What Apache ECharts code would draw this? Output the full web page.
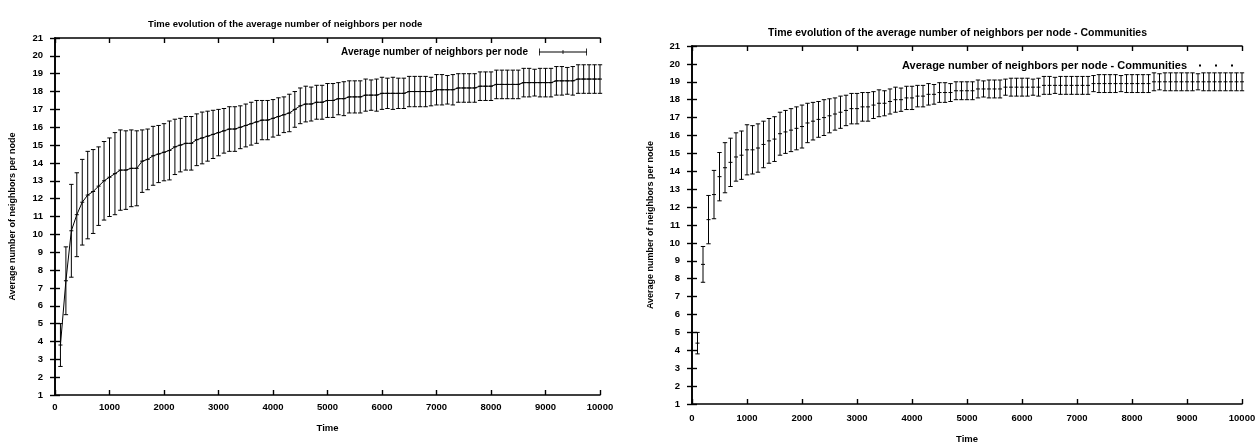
<!DOCTYPE html>
<html>
<head>
<meta charset="utf-8">
<script src="https://cdn.jsdelivr.net/npm/echarts@6/dist/echarts.min.js"></script>
<style>
html, body { margin: 0; padding: 0; background: #fff; }
#chart { width: 1257px; height: 442px; }
</style>
</head>
<body>
<div id="chart"></div>
<script>
// time steps (same for both runs)
var timeSteps = [
    100, 200, 300, 400, 500, 600, 700, 800, 900, 1000,
    1100, 1200, 1300, 1400, 1500, 1600, 1700, 1800, 1900, 2000,
    2100, 2200, 2300, 2400, 2500, 2600, 2700, 2800, 2900, 3000,
    3100, 3200, 3300, 3400, 3500, 3600, 3700, 3800, 3900, 4000,
    4100, 4200, 4300, 4400, 4500, 4600, 4700, 4800, 4900, 5000,
    5100, 5200, 5300, 5400, 5500, 5600, 5700, 5800, 5900, 6000,
    6100, 6200, 6300, 6400, 6500, 6600, 6700, 6800, 6900, 7000,
    7100, 7200, 7300, 7400, 7500, 7600, 7700, 7800, 7900, 8000,
    8100, 8200, 8300, 8400, 8500, 8600, 8700, 8800, 8900, 9000,
    9100, 9200, 9300, 9400, 9500, 9600, 9700, 9800, 9900, 10000
];

// average number of neighbors per node
var avgNeighbors = [
    3.8, 7.4, 10.2, 11.1, 11.8, 12.2, 12.4, 12.7, 13.0, 13.2,
    13.4, 13.6, 13.6, 13.7, 13.7, 14.1, 14.2, 14.4, 14.5, 14.6,
    14.7, 14.9, 15.0, 15.1, 15.1, 15.3, 15.4, 15.5, 15.6, 15.7,
    15.8, 15.9, 15.9, 16.0, 16.1, 16.2, 16.3, 16.4, 16.4, 16.5,
    16.6, 16.7, 16.8, 17.0, 17.2, 17.3, 17.3, 17.4, 17.4, 17.5,
    17.5, 17.6, 17.6, 17.7, 17.7, 17.7, 17.8, 17.8, 17.8, 17.9,
    17.9, 17.9, 17.9, 17.9, 18.0, 18.0, 18.0, 18.0, 18.0, 18.1,
    18.1, 18.1, 18.1, 18.2, 18.2, 18.2, 18.2, 18.3, 18.3, 18.3,
    18.4, 18.4, 18.4, 18.4, 18.4, 18.5, 18.5, 18.5, 18.5, 18.5,
    18.5, 18.6, 18.6, 18.6, 18.6, 18.7, 18.7, 18.7, 18.7, 18.7
];
var avgNeighborsErr = [
    1.2, 1.9, 2.6, 2.35, 2.4, 2.45, 2.35, 2.2, 2.2, 2.2,
    2.3, 2.25, 2.2, 2.15, 2.1, 1.75, 1.7, 1.65, 1.6, 1.6,
    1.65, 1.55, 1.5, 1.5, 1.5, 1.45, 1.45, 1.4, 1.35, 1.3,
    1.25, 1.25, 1.25, 1.2, 1.2, 1.2, 1.2, 1.1, 1.1, 1.05,
    1.05, 1.0, 1.05, 1.0, 1.0, 1.0, 0.95, 0.95, 0.95, 0.95,
    0.95, 0.9, 0.95, 0.9, 0.9, 0.9, 0.9, 0.85, 0.9, 0.9,
    0.85, 0.9, 0.85, 0.85, 0.85, 0.85, 0.85, 0.85, 0.8, 0.85,
    0.85, 0.8, 0.85, 0.8, 0.8, 0.8, 0.8, 0.8, 0.8, 0.8,
    0.8, 0.8, 0.8, 0.8, 0.8, 0.8, 0.8, 0.75, 0.8, 0.8,
    0.8, 0.8, 0.8, 0.75, 0.8, 0.8, 0.8, 0.8, 0.8, 0.8
];

// average number of neighbors per node - communities
var avgNeighborsComm = [
    4.4, 8.8, 11.3, 12.7, 13.7, 14.2, 14.5, 14.8, 14.9, 15.2,
    15.2, 15.3, 15.5, 15.7, 15.8, 16.1, 16.2, 16.3, 16.4, 16.5,
    16.7, 16.8, 16.9, 17.0, 17.1, 17.2, 17.3, 17.4, 17.5, 17.5,
    17.6, 17.6, 17.7, 17.8, 17.8, 17.9, 18.0, 18.0, 18.1, 18.1,
    18.2, 18.2, 18.3, 18.3, 18.4, 18.4, 18.4, 18.5, 18.5, 18.5,
    18.5, 18.6, 18.6, 18.6, 18.6, 18.6, 18.7, 18.7, 18.7, 18.7,
    18.7, 18.7, 18.7, 18.8, 18.8, 18.8, 18.8, 18.8, 18.8, 18.8,
    18.8, 18.8, 18.9, 18.9, 18.9, 18.9, 18.9, 18.9, 18.9, 18.9,
    18.9, 18.9, 18.9, 19.0, 19.0, 19.0, 19.0, 19.0, 19.0, 19.0,
    19.0, 19.0, 19.0, 19.0, 19.0, 19.0, 19.0, 19.0, 19.0, 19.0
];
var avgNeighborsCommErr = [
    0.6, 1.0, 1.35, 1.35, 1.35, 1.4, 1.35, 1.35, 1.35, 1.4,
    1.35, 1.35, 1.3, 1.25, 1.25, 1.2, 1.2, 1.2, 1.2, 1.2,
    1.1, 1.05, 1.0, 1.0, 0.95, 0.9, 0.9, 0.85, 0.85, 0.85,
    0.8, 0.8, 0.75, 0.75, 0.7, 0.7, 0.7, 0.65, 0.65, 0.65,
    0.6, 0.6, 0.6, 0.55, 0.55, 0.55, 0.5, 0.5, 0.5, 0.5,
    0.5, 0.5, 0.45, 0.5, 0.5, 0.5, 0.45, 0.5, 0.5, 0.5,
    0.5, 0.45, 0.5, 0.5, 0.5, 0.45, 0.5, 0.5, 0.5, 0.5,
    0.5, 0.5, 0.45, 0.5, 0.5, 0.5, 0.5, 0.45, 0.5, 0.5,
    0.5, 0.5, 0.5, 0.5, 0.45, 0.5, 0.5, 0.5, 0.5, 0.5,
    0.5, 0.45, 0.5, 0.5, 0.5, 0.5, 0.5, 0.5, 0.5, 0.5
];

var leftTitle = 'Time evolution of the average number of neighbors per node';
var rightTitle = 'Time evolution of the average number of neighbors per node - Communities';
var leftName = 'Average number of neighbors per node';
var rightName = 'Average number of neighbors per node - Communities';

var font = 'Liberation Sans, Arial, Helvetica, sans-serif';

function triples(means, errs) {
    var out = [];
    for (var i = 0; i < timeSteps.length; i++) {
        out.push([timeSteps[i], means[i], errs[i]]);
    }
    return out;
}

function pairs(means) {
    var out = [];
    for (var i = 0; i < timeSteps.length; i++) {
        out.push([timeSteps[i], means[i]]);
    }
    return out;
}

// gnuplot style error bar: vertical line, caps and a small cross at the mean
function errorBar(params, api) {
    var t = api.value(0), m = api.value(1), e = api.value(2);
    var hi = api.coord([t, m + e]);
    var lo = api.coord([t, m - e]);
    var mid = api.coord([t, m]);
    var st = { stroke: '#000', lineWidth: 1 };
    var cap = 2.2;
    return {
        type: 'group',
        children: [
            { type: 'line', shape: { x1: hi[0], y1: hi[1], x2: lo[0], y2: lo[1] }, style: st },
            { type: 'line', shape: { x1: hi[0] - cap, y1: hi[1], x2: hi[0] + cap, y2: hi[1] }, style: st },
            { type: 'line', shape: { x1: lo[0] - cap, y1: lo[1], x2: lo[0] + cap, y2: lo[1] }, style: st },
            { type: 'line', shape: { x1: mid[0] - 2, y1: mid[1], x2: mid[0] + 2, y2: mid[1] }, style: st }
        ]
    };
}

function txt(size) {
    return { color: '#000', fontFamily: font, fontWeight: 'bold', fontSize: size };
}

function xAx(grid, pos, labels, margin, gap) {
    return {
        type: 'value', gridIndex: grid, position: pos,
        min: 0, max: 10000, interval: 1000,
        name: labels ? 'Time' : '', nameLocation: 'middle', nameGap: gap,
        nameTextStyle: txt(9.5),
        axisLine: { show: true, lineStyle: { color: '#000', width: 1.6 } },
        axisTick: { show: true, inside: true, length: 5, lineStyle: { color: '#000', width: 1.4 } },
        axisLabel: Object.assign({ show: labels, margin: margin, formatter: function (v) { return '' + v; } }, txt(9.5)),
        splitLine: { show: false }
    };
}

function yAx(grid, pos, labels, gap) {
    return {
        type: 'value', gridIndex: grid, position: pos,
        min: 1, max: 21, interval: 1,
        name: labels ? 'Average number of neighbors per node' : '',
        nameLocation: 'middle', nameGap: gap, nameRotate: 90,
        nameTextStyle: txt(9),
        axisLine: { show: true, lineStyle: { color: '#000', width: 1.6 } },
        axisTick: { show: true, inside: true, length: 5, lineStyle: { color: '#000', width: 1.4 } },
        axisLabel: Object.assign({ show: labels, margin: 12 }, txt(9.5)),
        splitLine: { show: false }
    };
}

var myChart = echarts.init(document.getElementById('chart'), null, { renderer: 'canvas' });

var option = {
    backgroundColor: '#fff',
    animation: false,
    title: [
        { text: leftTitle, left: 143, top: 14, textStyle: txt(9.5) },
        { text: rightTitle, left: 763, top: 23, textStyle: txt(10.5) }
    ],
    legend: [
        {
            data: [leftName], right: 1257 - 592, top: 42, align: 'right',
            itemWidth: 48, itemHeight: 7, itemGap: 0,
            icon: 'path://M0,0h0.8v7h-0.8z M0,3.1h48v0.8h-48z M47.2,0h0.8v7h-0.8z M23.6,1.5h0.8v4h-0.8z',
            textStyle: Object.assign({ padding: [0, 6, 0, 0] }, txt(10))
        },
        {
            data: [rightName], right: 1257 - 1238, top: 55, align: 'right',
            itemWidth: 40, itemHeight: 2, itemGap: 0,
            icon: 'path://M3,0h2v2h-2z M19,0h2v2h-2z M35,0h2v2h-2z',
            textStyle: Object.assign({ padding: [0, 4, 0, 0] }, txt(11))
        }
    ],
    grid: [
        { left: 55, top: 38, width: 545, height: 357, outerBoundsMode: 'none' },
        { left: 692, top: 46, width: 550, height: 358, outerBoundsMode: 'none' }
    ],
    xAxis: [
        xAx(0, 'bottom', true, 7, 28),
        xAx(0, 'top', false, 7, 0),
        xAx(1, 'bottom', true, 9, 30),
        xAx(1, 'top', false, 9, 0)
    ],
    yAxis: [
        yAx(0, 'left', true, 38),
        yAx(0, 'right', false, 0),
        yAx(1, 'left', true, 37),
        yAx(1, 'right', false, 0)
    ],
    series: [
        {
            name: leftName, type: 'line', xAxisIndex: 0, yAxisIndex: 0,
            data: pairs(avgNeighbors), symbol: 'none',
            lineStyle: { color: '#000', width: 1 }, itemStyle: { color: '#000' }
        },
        {
            name: leftName, type: 'custom', xAxisIndex: 0, yAxisIndex: 0,
            data: triples(avgNeighbors, avgNeighborsErr),
            renderItem: errorBar, itemStyle: { color: '#000' }
        },
        {
            name: rightName, type: 'custom', xAxisIndex: 2, yAxisIndex: 2,
            data: triples(avgNeighborsComm, avgNeighborsCommErr),
            renderItem: errorBar, itemStyle: { color: '#000' }
        }
    ]
};

myChart.setOption(option);
</script>
</body>
</html>
